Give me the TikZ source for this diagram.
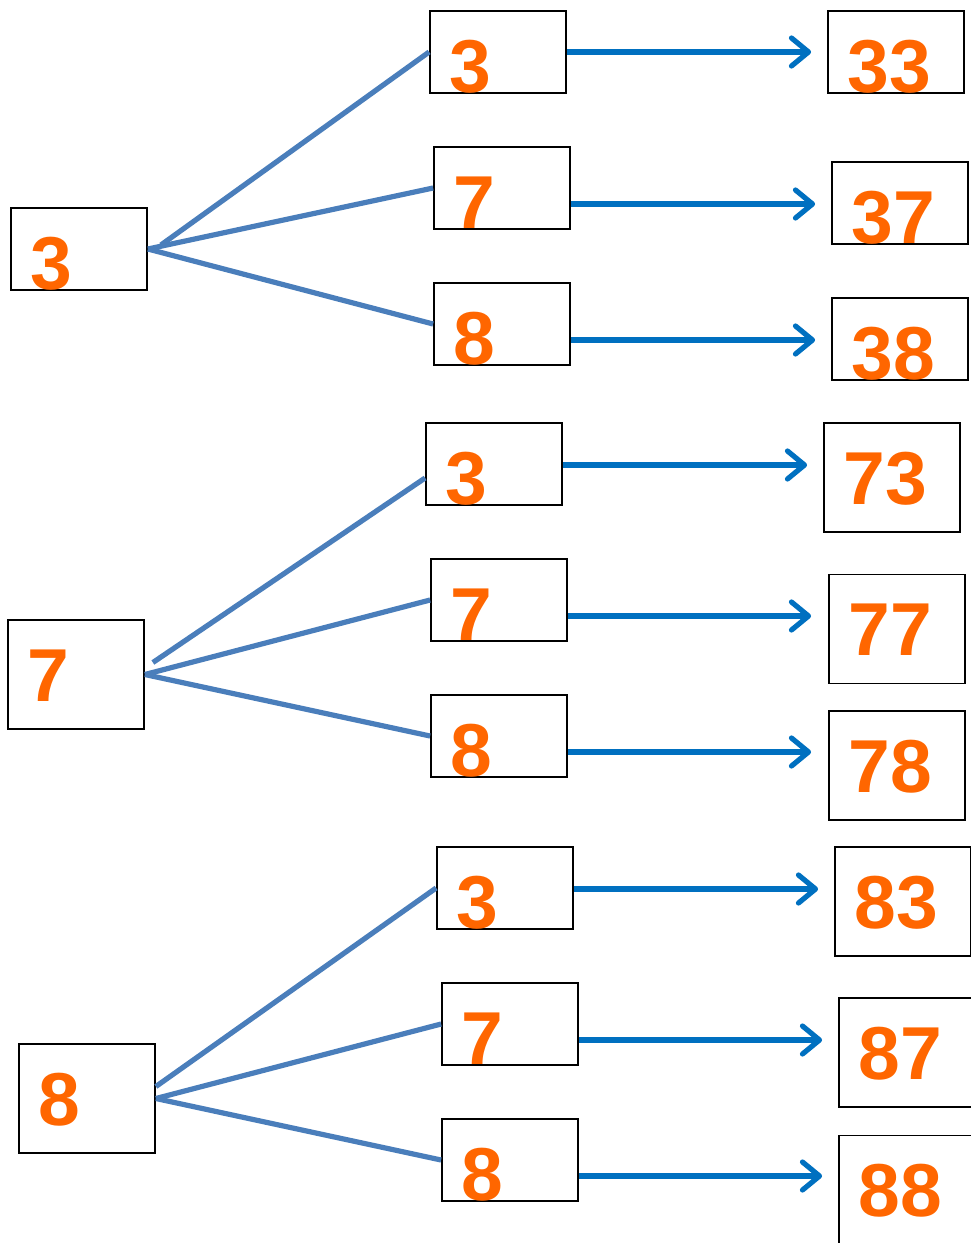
\documentclass[tikz,border=0pt]{standalone}
\usepackage{fontspec}
\setmainfont{Liberation Sans}
\usetikzlibrary{arrows.meta}
\definecolor{digitorange}{RGB}{255,102,0}
\definecolor{arrowblue}{RGB}{0,112,192}
\definecolor{treeblue}{RGB}{74,126,187}
\tikzset{
  box/.style={draw=black, line width=1.8pt, rectangle, inner sep=0pt, minimum width=136pt, minimum height=82pt},
  tallbox/.style={box, minimum height=109pt},
  digit/.style={anchor=base west, inner sep=0pt, text=digitorange, font=\fontsize{75}{75}\selectfont\bfseries},
  branch/.style={draw=treeblue, line width=5.2pt},
  arr/.style={draw=arrowblue, line width=5.2pt, -{Straight Barb[length=17pt, width=28pt, line cap=round, line join=round]}}
}
\newcommand{\numbox}[4]{%
  \node[#1] (#2) at #3 {};
  \node[digit] (#2t) at ([xshift=20pt, yshift=-82pt]#2.north west) {#4};
}
\begin{document}
\begin{tikzpicture}[x=1pt, y=-1pt]
\useasboundingbox (0,0) rectangle (971,1243);
% left boxes
\numbox{box}{L1}{(79,249)}{3}
\numbox{tallbox}{L2}{(76,674.5)}{7}
\numbox{tallbox}{L3}{(87,1098.5)}{8}
% middle boxes
\numbox{box}{M1a}{(498,52)}{3}
\numbox{box}{M1b}{(502,188)}{7}
\numbox{box}{M1c}{(502,324)}{8}
\numbox{box}{M2a}{(494,464)}{3}
\numbox{box}{M2b}{(499,600)}{7}
\numbox{box}{M2c}{(499,736)}{8}
\numbox{box}{M3a}{(505,888)}{3}
\numbox{box}{M3b}{(510,1024)}{7}
\numbox{box}{M3c}{(510,1160)}{8}
% right boxes
\numbox{box}{R1a}{(896,52)}{33}
\numbox{box}{R1b}{(900,203)}{37}
\numbox{box}{R1c}{(900,339)}{38}
\numbox{tallbox}{R2a}{(892,477.5)}{73}
\numbox{tallbox}{R2b}{(897,629)}{77}
\numbox{tallbox}{R2c}{(897,765.5)}{78}
\numbox{tallbox}{R3a}{(903,901.5)}{83}
\numbox{tallbox}{R3b}{(907,1052.5)}{87}
\numbox{tallbox}{R3c}{(907,1190)}{88}
% branches
\coordinate (B1) at ([xshift=13pt, yshift=4pt]L1.east);
\coordinate (B2) at ([xshift=8pt, yshift=12pt]L2.east);
\coordinate (B3) at ([yshift=12pt]L3.east);
\draw[branch] (B1) -- (M1a.west);
\draw[branch] (L1.east) -- (M1b.west);
\draw[branch] (L1.east) -- (M1c.west);
\draw[branch] (B2) -- ([yshift=-14pt]M2a.west);
\draw[branch] (L2.east) -- (M2b.west);
\draw[branch] (L2.east) -- (M2c.west);
\draw[branch] (B3) -- (M3a.west);
\draw[branch] (L3.east) -- (M3b.west);
\draw[branch] (L3.east) -- (M3c.west);
% arrows
\draw[arr, shorten >=16pt] (M1a.east |- 0,52) -- (R1a.west |- 0,52);
\draw[arr, shorten >=16pt] (M1b.east |- 0,204) -- (R1b.west |- 0,204);
\draw[arr, shorten >=16pt] (M1c.east |- 0,340) -- (R1c.west |- 0,340);
\draw[arr, shorten >=16pt] (M2a.east |- 0,465) -- (R2a.west |- 0,465);
\draw[arr, shorten >=17pt] (M2b.east |- 0,616) -- (R2b.west |- 0,616);
\draw[arr, shorten >=17pt] (M2c.east |- 0,752) -- (R2c.west |- 0,752);
\draw[arr, shorten >=16pt] (M3a.east |- 0,889) -- (R3a.west |- 0,889);
\draw[arr, shorten >=16pt] (M3b.east |- 0,1040) -- (R3b.west |- 0,1040);
\draw[arr, shorten >=16pt] (M3c.east |- 0,1176) -- (R3c.west |- 0,1176);
\end{tikzpicture}
\end{document}
